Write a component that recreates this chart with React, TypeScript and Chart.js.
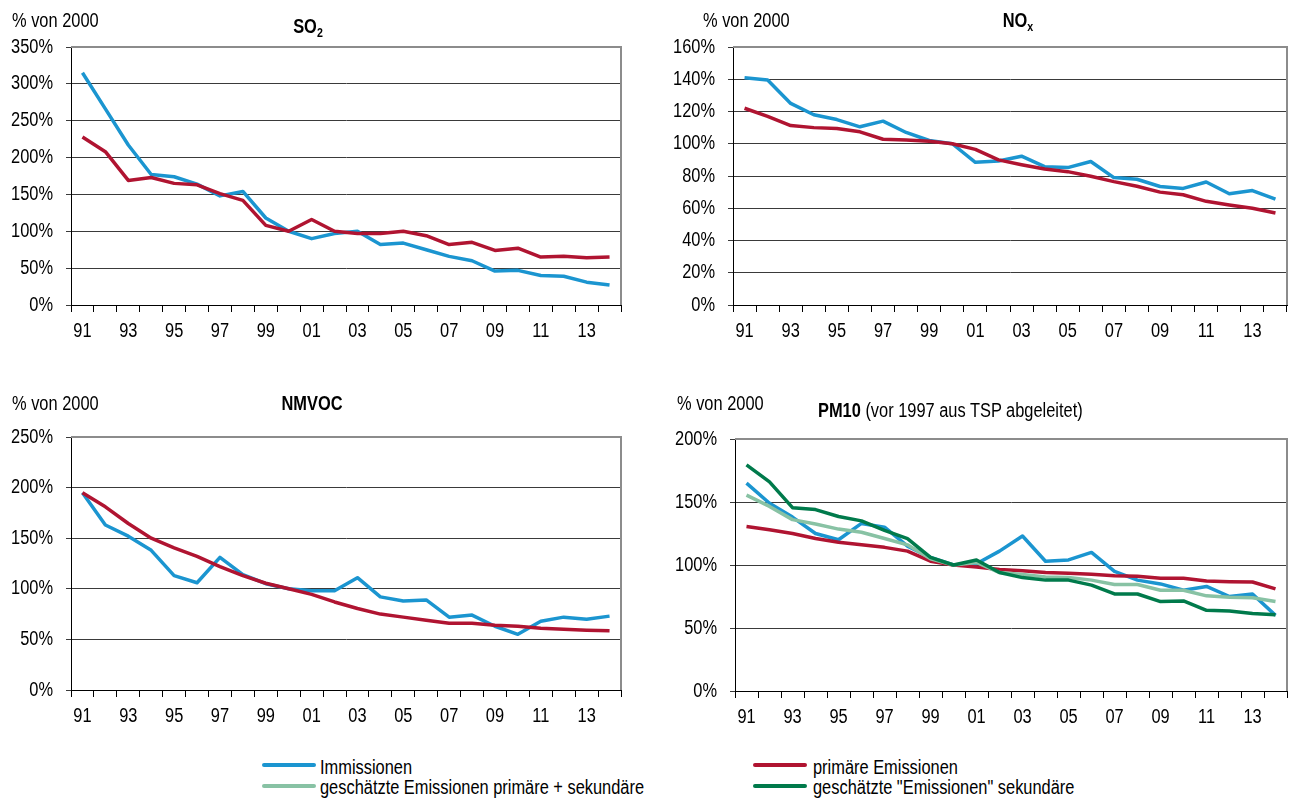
import React, { useEffect, useRef } from 'react';
import { Chart, registerables } from 'chart.js';

Chart.register(...registerables);

const FONT = "'Liberation Sans', Arial, sans-serif";
const NARROW = 0.82;

const years = ['91', '92', '93', '94', '95', '96', '97', '98', '99', '00', '01', '02', '03', '04', '05', '06', '07', '08', '09', '10', '11', '12', '13', '14'];

const so2Immissionen = [315, 266, 217, 177, 174, 164, 148, 154, 118, 100, 90, 97, 100, 82, 84, 75, 66, 60, 46, 47, 40, 39, 31, 27];
const so2Primaer = [228, 208, 169, 173, 165, 163, 151, 142, 108, 100, 116, 100, 97, 97, 100, 94, 82, 85, 74, 77, 65, 66, 64, 65];

const noxImmissionen = [141, 139.5, 125, 118, 115, 110.5, 114, 107, 102, 100, 88.5, 89.3, 92.3, 85.8, 85.2, 89, 79, 78, 73.5, 72.3, 76.3, 69, 71, 65.6];
const noxPrimaer = [122, 117, 111.3, 110, 109.4, 107.4, 102.8, 102.4, 101.5, 100, 96.5, 90, 87, 84.3, 82.7, 79.8, 76.5, 73.6, 70, 68.4, 64.3, 62, 60, 57];

const nmvocImmissionen = [195, 163, 152, 138, 113, 106, 131, 114, 105, 100, 98, 98, 111, 92, 88, 89, 72, 74, 63, 55, 68, 72, 70, 73];
const nmvocPrimaer = [195, 181, 164.5, 150, 140.5, 132, 122, 113, 105.5, 100, 94.5, 87, 80.5, 75, 72, 69, 66, 66, 64, 63, 61, 60, 59, 58.5];

const pm10Immissionen = [165, 149, 138, 125, 120, 133, 130, 115, 106, 100, 101, 111, 123, 103, 104, 110, 95, 88, 85, 80, 83, 75, 77, 60];
const pm10Primaer = [130.5, 128, 125, 121, 118, 116, 114, 111, 103, 100, 98.5, 96.5, 95.5, 94, 93.5, 92.7, 91.5, 91, 89.5, 89.5, 87.3, 86.7, 86.5, 81];
const pm10PrimSek = [155.5, 146.5, 136, 132.5, 128.5, 126, 121, 116, 105, 100, 102, 94, 92.5, 90.5, 90, 88, 84.5, 84.5, 80, 80, 75.5, 74.5, 74, 71];
const pm10Sekundaer = [179.5, 166, 145.5, 144, 138.5, 135, 127.5, 121, 106, 100, 104, 94, 90, 88, 88, 84, 77, 77, 71, 71.5, 64, 63.5, 61.5, 60.5];

const legendLabels = ['Immissionen', 'primäre Emissionen', 'geschätzte Emissionen primäre + sekundäre', 'geschätzte "Emissionen" sekundäre'];

const BLUE = '#1B95D0';
const RED = '#B01431';
const LIGHTGREEN = '#88C2A4';
const DARKGREEN = '#007A4B';

const framePlugin = {
  id: 'frame',
  beforeDatasetsDraw(chart: any) {
    const { ctx, chartArea: a } = chart;
    ctx.save();
    ctx.strokeStyle = '#8C8C8C';
    ctx.lineWidth = 2;
    ctx.beginPath();
    ctx.moveTo(a.left, a.top);
    ctx.lineTo(a.right, a.top);
    ctx.lineTo(a.right, a.bottom);
    ctx.stroke();
    ctx.restore();
  },
};

function ds(label: string, data: number[], color: string, order: number) {
  return {
    label,
    data,
    borderColor: color,
    backgroundColor: color,
    borderWidth: 3.5,
    pointRadius: 0,
    pointHoverRadius: 0,
    tension: 0,
    borderJoinStyle: 'round',
    fill: false,
    order,
  };
}

// condense canvas text horizontally (no narrow font installed)
function condense(ctx: any) {
  const orig = ctx.fillText;
  ctx.fillText = function (text: string, x: number, y: number) {
    this.save();
    this.translate(x, y);
    this.scale(NARROW, 1);
    orig.call(this, text, 0, 0);
    this.restore();
  };
}

type PanelProps = {
  left: number; top: number; width: number; height: number;
  yWidth: number; xHeight: number; padTop: number; padRight: number;
  max: number; step: number; datasets: any[];
};

function Panel(p: PanelProps) {
  const ref = useRef<HTMLCanvasElement>(null);
  useEffect(() => {
    if (!ref.current) return;
    const ctx = ref.current.getContext('2d');
    condense(ctx);
    const chart = new Chart(ref.current, {
      type: 'line',
      data: { labels: years, datasets: p.datasets },
      plugins: [framePlugin],
      options: {
        animation: false,
        responsive: false,
        maintainAspectRatio: false,
        layout: { padding: { top: p.padTop, right: p.padRight, left: 0, bottom: 0 } },
        plugins: { legend: { display: false }, tooltip: { enabled: false } },
        scales: {
          x: {
            type: 'category',
            offset: true,
            grid: { offset: true, drawOnChartArea: false, drawTicks: true, tickLength: 7, color: '#000', lineWidth: 1 },
            border: { color: '#000', width: 1 },
            ticks: {
              autoSkip: false,
              maxRotation: 0,
              minRotation: 0,
              padding: 7,
              color: '#000',
              font: { family: FONT, size: 20 },
              callback: (_v: any, i: number) => (i % 2 === 0 ? years[i] : ''),
            },
            afterFit: (s: any) => { s.height = p.xHeight; },
          },
          y: {
            min: 0,
            max: p.max,
            grid: { color: '#3A3A3A', lineWidth: 1, drawTicks: true, tickLength: 5 },
            border: { color: '#000', width: 1 },
            ticks: {
              stepSize: p.step,
              padding: 13,
              color: '#000',
              font: { family: FONT, size: 20 },
              callback: (v: any) => `${v}%`,
            },
            afterFit: (s: any) => { s.width = p.yWidth; },
          },
        },
      } as any,
    });
    return () => chart.destroy();
  }, []);
  return (
    <canvas
      ref={ref}
      width={p.width}
      height={p.height}
      style={{ position: 'absolute', left: p.left, top: p.top, width: p.width, height: p.height }}
    />
  );
}

function T(props: { x: number; base: number; size?: number; bold?: boolean; align?: 'left' | 'center'; children: any }) {
  const size = props.size ?? 20;
  const center = props.align === 'center';
  return (
    <div
      style={{
        position: 'absolute',
        left: center ? props.x - 250 : props.x,
        width: center ? 500 : undefined,
        textAlign: center ? 'center' : 'left',
        top: props.base - 0.8465 * size,
        fontSize: size,
        lineHeight: `${size}px`,
        fontFamily: FONT,
        fontWeight: props.bold ? 'bold' : 'normal',
        whiteSpace: 'nowrap',
        color: '#000',
        transform: `scaleX(${NARROW})`,
        transformOrigin: center ? 'center' : 'left',
      }}
    >
      {props.children}
    </div>
  );
}

const subStyle: any = { fontSize: 13, verticalAlign: 'baseline', position: 'relative', top: 4 };

function Swatch(props: { x: number; y: number; color: string }) {
  return <div style={{ position: 'absolute', left: props.x, top: props.y - 2, width: 54, height: 4, background: props.color, borderRadius: 2 }} />;
}

export default function App() {
  return (
    <div style={{ position: 'absolute', left: 0, top: 0, width: 1294, height: 805, background: '#fff', overflow: 'hidden' }}>
      <Panel left={0} top={22} width={640} height={330} yWidth={71} xHeight={47} padTop={25} padRight={19} max={350} step={50}
        datasets={[ds(legendLabels[0], so2Immissionen, BLUE, 2), ds(legendLabels[1], so2Primaer, RED, 1)]} />
      <Panel left={640} top={22} width={654} height={330} yWidth={93} xHeight={47} padTop={25} padRight={7} max={160} step={20}
        datasets={[ds(legendLabels[0], noxImmissionen, BLUE, 2), ds(legendLabels[1], noxPrimaer, RED, 1)]} />
      <Panel left={0} top={412} width={640} height={330} yWidth={71} xHeight={52} padTop={25} padRight={19} max={250} step={50}
        datasets={[ds(legendLabels[0], nmvocImmissionen, BLUE, 2), ds(legendLabels[1], nmvocPrimaer, RED, 1)]} />
      <Panel left={640} top={414} width={654} height={330} yWidth={95} xHeight={53} padTop={25} padRight={7} max={200} step={50}
        datasets={[
          ds(legendLabels[0], pm10Immissionen, BLUE, 4),
          ds(legendLabels[1], pm10Primaer, RED, 3),
          ds(legendLabels[2], pm10PrimSek, LIGHTGREEN, 2),
          ds(legendLabels[3], pm10Sekundaer, DARKGREEN, 1),
        ]} />

      <T x={12} base={27}>% von 2000</T>
      <T x={308} base={33} bold align="center">SO<span style={subStyle}>2</span></T>
      <T x={703} base={27}>% von 2000</T>
      <T x={1018} base={27} bold align="center">NO<span style={subStyle}>x</span></T>
      <T x={12} base={410}>% von 2000</T>
      <T x={312} base={410} bold align="center">NMVOC</T>
      <T x={677} base={410}>% von 2000</T>
      <T x={818} base={417}><b>PM10</b> (vor 1997 aus TSP abgeleitet)</T>

      <Swatch x={262} y={765} color={BLUE} />
      <T x={320} base={774} size={20}>{legendLabels[0]}</T>
      <Swatch x={753} y={765} color={RED} />
      <T x={813} base={774} size={20}>{legendLabels[1]}</T>
      <Swatch x={262} y={786} color={LIGHTGREEN} />
      <T x={320} base={794} size={20}>{legendLabels[2]}</T>
      <Swatch x={753} y={786} color={DARKGREEN} />
      <T x={813} base={794} size={20}>{legendLabels[3]}</T>
    </div>
  );
}
